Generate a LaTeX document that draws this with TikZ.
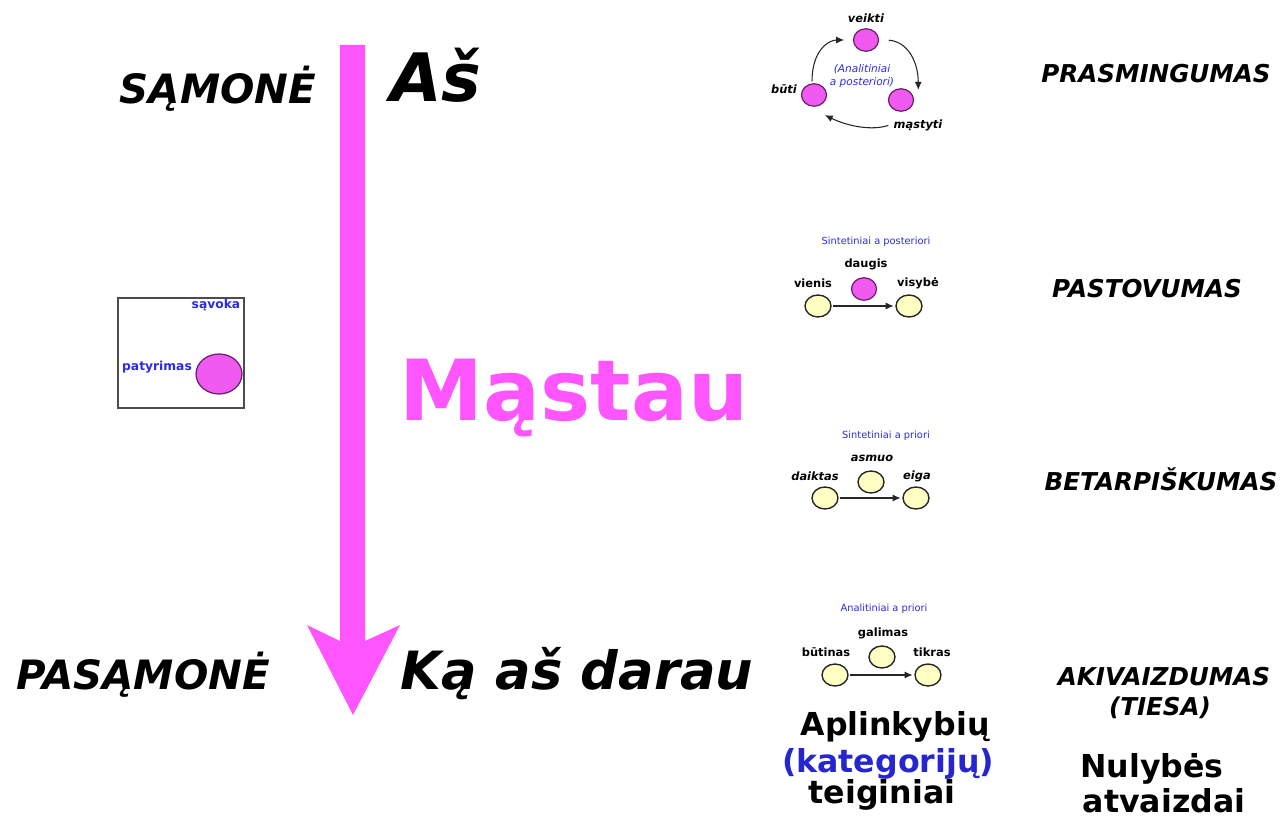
\documentclass[tikz,border=0pt]{standalone}
\usepackage{fontspec}
\setmainfont{DejaVu Sans}
\usetikzlibrary{shapes.geometric,arrows.meta}
\definecolor{flowpink}{HTML}{FF55FF}
\definecolor{dotmagenta}{HTML}{F05AF0}
\definecolor{dotedge}{HTML}{6A1F6A}
\definecolor{dotyellow}{HTML}{FFFFC4}
\definecolor{noteblue}{HTML}{2A2AE8}
\begin{document}
\begin{tikzpicture}[x=0.02cm,y=-0.02cm,
    bigword/.style={anchor=base,inner sep=0,font=\bfseries\itshape},
    sidelabel/.style={anchor=base,inner sep=0,font=\fontsize{14pt}{16pt}\selectfont\bfseries\itshape},
    footlabel/.style={anchor=base,inner sep=0,font=\fontsize{18pt}{20pt}\selectfont\bfseries},
    tinylabel/.style={inner sep=0,font=\fontsize{6.5pt}{7pt}\selectfont\bfseries},
    tinytitle/.style={inner sep=0,text=noteblue,font=\fontsize{5.6pt}{7pt}\selectfont},
    pinkdot/.style={ellipse,draw=dotedge,line width=0.7pt,fill=dotmagenta,inner sep=0,minimum width=0.5cm,minimum height=0.45cm},
    yellowdot/.style={ellipse,draw=black!85,line width=0.8pt,fill=dotyellow,inner sep=0,minimum width=0.52cm,minimum height=0.44cm},
    linkarrow/.style={-{Latex[length=4.5pt,width=4pt]},line width=0.6pt,black!85,shorten >=1pt,shorten <=1pt}]
    \pgfmathsetmacro{\shaftleft}{340}
    \pgfmathsetmacro{\shaftright}{365}
    \pgfmathsetmacro{\headbase}{625}
    \providecommand{\mainfontsize}{\fontsize{48pt}{50pt}\selectfont}
    \providecommand{\selffontsize}{\fontsize{38pt}{40pt}\selectfont}
    \providecommand{\actfontsize}{\fontsize{30pt}{32pt}\selectfont}
    \providecommand{\mindfontsize}{\fontsize{23pt}{25pt}\selectfont}
    \useasboundingbox (0,0) rectangle (1286,821);
    % big downward arrow
    \fill[flowpink] (\shaftleft,45) -- (\shaftright,45) -- (\shaftright,641) -- (400,\headbase) -- (353,715) -- (307,\headbase) -- (\shaftleft,641) -- cycle;
    \node[bigword,font=\mindfontsize\bfseries\itshape] (samone) at (218,104) {SĄMONĖ};
    \node[bigword,font=\selffontsize\bfseries\itshape] (as) at (436,102) {Aš};
    \node[bigword,font=\mainfontsize\bfseries,text=flowpink] (mastau) at (574,420) {Mąstau};
    \node[bigword,font=\mindfontsize\bfseries\itshape] (pasamone) at (143,689) {PASĄMONĖ};
    \node[bigword,font=\actfontsize\bfseries\itshape] (kadarau) at (577,689) {Ką aš darau};
    % concept box
    \draw[black!70,line width=0.6pt] (118,298) rectangle (244,408);
    \node[tinylabel,text=noteblue,font=\fontsize{7pt}{8pt}\selectfont\bfseries] (savoka) at (216,305) {sąvoka};
    \node[tinylabel,text=noteblue,font=\fontsize{7pt}{8pt}\selectfont\bfseries] (patyrimas) at (157,367) {patyrimas};
    \node[pinkdot,minimum width=0.92cm,minimum height=0.8cm] (patyrimasdot) at (219,374) {};
    % cycle
    \node[pinkdot] (veikti) at (866,40) {};
    \node[pinkdot] (buti) at (814,95) {};
    \node[pinkdot] (mastyti) at (901,100) {};
    \node[tinylabel,font=\fontsize{6.5pt}{7pt}\selectfont\bfseries\itshape] (veiktilabel) at (866,18) {veikti};
    \node[tinylabel,font=\fontsize{6.5pt}{7pt}\selectfont\bfseries\itshape] (butilabel) at (784,89) {būti};
    \node[tinylabel,font=\fontsize{6.5pt}{7pt}\selectfont\bfseries\itshape] (mastytilabel) at (918,125) {mąstyti};
    \node[tinytitle,align=center,font=\fontsize{6pt}{7.2pt}\selectfont\itshape] (cycletitle) at (862,76) {(Analitiniai\\a posteriori)};
    \draw[linkarrow] ([xshift=-0.04cm]buti.north) .. controls +(0,-32) and +(-18,0) .. ([xshift=-0.14cm]veikti.west);
    \draw[linkarrow] ([xshift=0.16cm]veikti.east) .. controls +(22,2) and +(0,-28) .. ([xshift=0.16cm]mastyti.north east);
    \draw[linkarrow] ([xshift=-0.22cm,yshift=-0.26cm]mastyti.south) .. controls +(-18,6) and +(25,12) .. ([yshift=-0.22cm]buti.south east);
    % sintetiniai a posteriori
    \node[tinytitle] (posteriori) at (876,242) {Sintetiniai a posteriori};
    \node[tinylabel] (daugislabel) at (866,264) {daugis};
    \node[tinylabel] (vienislabel) at (813,283) {vienis};
    \node[tinylabel] (visybelabel) at (918,283) {visybė};
    \node[yellowdot] (vienis) at (818,306) {};
    \node[pinkdot] (daugis) at (864,289) {};
    \node[yellowdot] (visybe) at (909,306) {};
    \draw[linkarrow] (vienis) -- (visybe);
    % sintetiniai a priori
    \node[tinytitle] (sintpriori) at (886,436) {Sintetiniai a priori};
    \node[tinylabel,font=\fontsize{6.5pt}{7pt}\selectfont\bfseries\itshape] (asmuolabel) at (872,458) {asmuo};
    \node[tinylabel,font=\fontsize{6.5pt}{7pt}\selectfont\bfseries\itshape] (daiktaslabel) at (815,476) {daiktas};
    \node[tinylabel,font=\fontsize{6.5pt}{7pt}\selectfont\bfseries\itshape] (eigalabel) at (917,476) {eiga};
    \node[yellowdot] (daiktas) at (825,498) {};
    \node[yellowdot] (asmuo) at (871,482) {};
    \node[yellowdot] (eiga) at (916,498) {};
    \draw[linkarrow] (daiktas) -- (eiga);
    % analitiniai a priori
    \node[tinytitle] (analpriori) at (884,609) {Analitiniai a priori};
    \node[tinylabel] (galimaslabel) at (883,633) {galimas};
    \node[tinylabel] (butinaslabel) at (826,652) {būtinas};
    \node[tinylabel] (tikraslabel) at (932,652) {tikras};
    \node[yellowdot] (butinas) at (835,675) {};
    \node[yellowdot] (galimas) at (882,657) {};
    \node[yellowdot] (tikras) at (928,675) {};
    \draw[linkarrow] (butinas) -- (tikras);
    % right column
    \node[sidelabel] (prasmingumas) at (1156,83) {PRASMINGUMAS};
    \node[sidelabel] (pastovumas) at (1147,297) {PASTOVUMAS};
    \node[sidelabel] (betarpiskumas) at (1161,490) {BETARPIŠKUMAS};
    \node[sidelabel] (akivaizdumas) at (1164,685) {AKIVAIZDUMAS};
    \node[sidelabel] (tiesa) at (1160,715) {(TIESA)};
    \node[footlabel] (aplinkybiu) at (895,735) {Aplinkybių};
    \node[footlabel,text=noteblue!90!black] (kategoriju) at (888,772) {(kategorijų)};
    \node[footlabel] (teiginiai) at (882,803) {teiginiai};
    \node[footlabel] (nulybes) at (1152,777) {Nulybės};
    \node[footlabel] (atvaizdai) at (1164,812) {atvaizdai};
\end{tikzpicture}
\end{document}
